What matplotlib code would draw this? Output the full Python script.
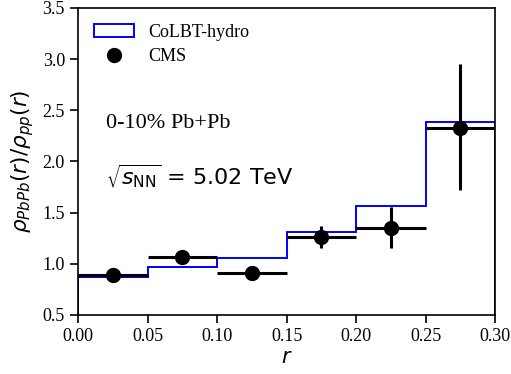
import numpy as np
import matplotlib
matplotlib.use('Agg')
import matplotlib.pyplot as plt

plt.rcParams['font.family'] = 'serif'
plt.rcParams['font.serif'] = ['Liberation Serif', 'DejaVu Serif']
plt.rcParams['mathtext.fontset'] = 'dejavusans'

# CoLBT-hydro histogram
bin_edges = [0.0, 0.05, 0.10, 0.15, 0.20, 0.25, 0.30]
colbt = [0.875, 0.97, 1.055, 1.31, 1.56, 2.38]

# CMS data
r_cms = [0.025, 0.075, 0.125, 0.175, 0.225, 0.275]
cms = [0.89, 1.07, 0.905, 1.26, 1.35, 2.33]
cms_err_lo = [0.02, 0.02, 0.02, 0.11, 0.20, 0.61]
cms_err_hi = [0.02, 0.02, 0.02, 0.11, 0.20, 0.62]
cms_xerr = [0.025] * 6

fig = plt.figure(figsize=(5.11, 3.74), dpi=100)
ax = fig.add_axes([0.153, 0.158, 0.816, 0.821])

ax.hist(bin_edges[:-1], bins=bin_edges, weights=colbt, histtype='step',
        color='blue', lw=1.4, label='CoLBT-hydro', bottom=0)
ax.errorbar(r_cms, cms, yerr=[cms_err_lo, cms_err_hi], xerr=cms_xerr,
            fmt='none', ecolor='black', elinewidth=2.2, capsize=0)
ax.plot(r_cms, cms, 'o', color='black', ms=10, label='CMS')

ax.set_xlim(0, 0.30)
ax.set_ylim(0.5, 3.5)
ax.set_xticks([0.00, 0.05, 0.10, 0.15, 0.20, 0.25, 0.30])
ax.set_yticks([0.5, 1.0, 1.5, 2.0, 2.5, 3.0, 3.5])
ax.xaxis.set_major_formatter(matplotlib.ticker.FormatStrFormatter('%.2f'))
ax.yaxis.set_major_formatter(matplotlib.ticker.FormatStrFormatter('%.1f'))
ax.tick_params(labelsize=13, length=5.5, width=1.2, pad=4)
for s in ax.spines.values():
    s.set_linewidth(1.2)

ax.set_xlabel(r'$r$', fontsize=15, labelpad=3)
ax.set_ylabel(r'$\rho_{PbPb}(r)/\rho_{pp}(r)$', fontsize=15.5, labelpad=5)

ax.legend(loc='upper left', frameon=False, fontsize=13, handlelength=2.2,
          borderaxespad=0.5, labelspacing=0.4)

ax.text(0.02, 2.33, '0-10% Pb+Pb', fontsize=16)
ax.text(0.02, 1.77, r'$\sqrt{s_{\rm NN}}$ = 5.02 TeV', fontsize=16,
        family='DejaVu Sans')

fig.savefig('out.png', dpi=100)
